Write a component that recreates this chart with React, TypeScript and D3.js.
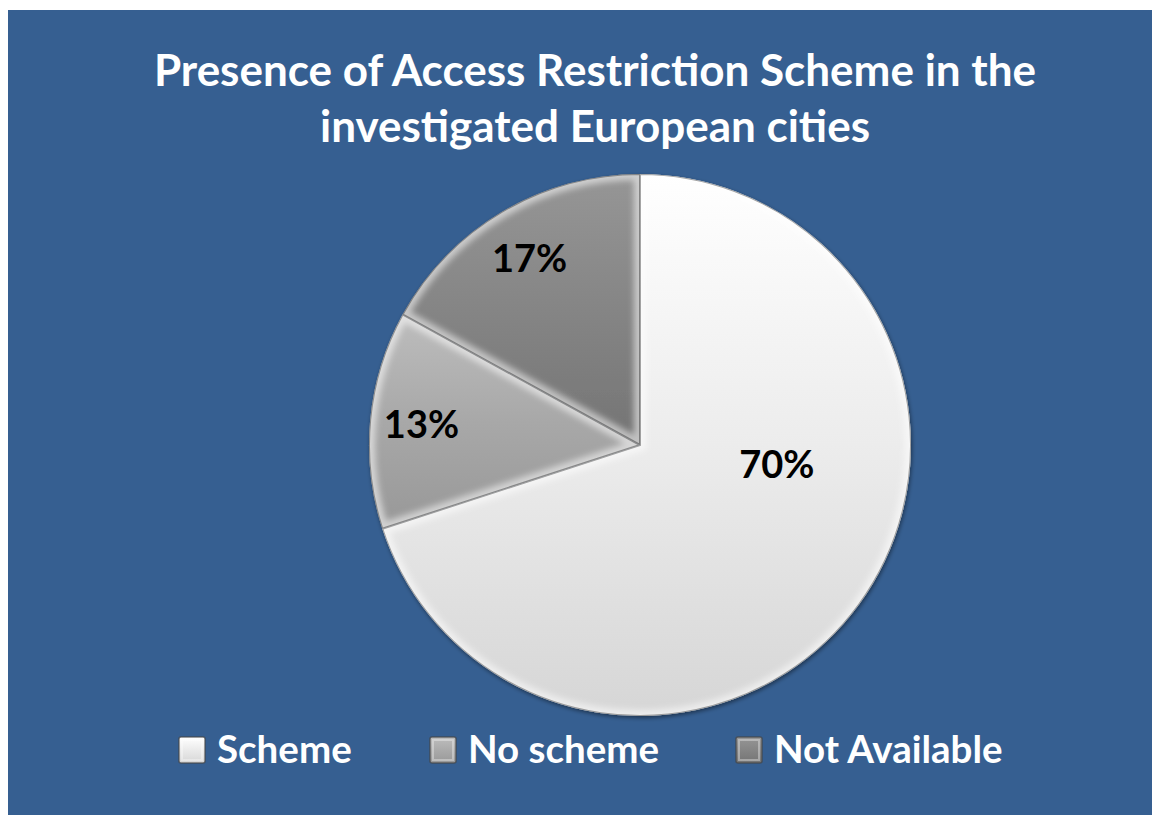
import * as d3 from 'd3';
import React from 'react';

// chart data
const categories = ['Scheme', 'No scheme', 'Not Available'];
const values = [70, 13, 17];
const sliceColors = ['#ececec', '#a8a8a8', '#858585'];
const sliceLight = ['#ffffff', '#bdbdbd', '#969696'];
const sliceDark = ['#d6d6d6', '#989898', '#747474'];
const titleLines = ['Presence of Access Restriction Scheme in the', 'investigated European cities'];
// label placement: radius as share of pie radius, angle shift in degrees
const labelRadius = [0.51, 0.81, 0.8];
const labelShift = [-28, 0, 0];

const params = {
    width: 1152,
    height: 815,
    bgX: 8,
    bgY: 10,
    bg: '#365f91',
    cx: 640,
    cy: 445,
    radius: 271,
    titleX: 595,
    titleY: [86, 142],
    legendY: 750,
    legendX: [179, 430, 736],
    font: 'Lato, "Open Sans", sans-serif',
};

export default function App() {
    const pie = d3.pie<number>().sort(null).value(d => d);
    const arcs = pie(values);
    const arc = d3.arc<d3.PieArcDatum<number>>().innerRadius(0).outerRadius(params.radius);

    return (
        <svg width={params.width} height={params.height}
            style={{ position: 'absolute', left: 0, top: 0, fontFamily: params.font }}>
            <defs>
                {arcs.map((d, i) => (
                    <linearGradient key={i} id={'g' + i} x1="0" y1="0" x2="0" y2="1">
                        <stop offset="0" stopColor={sliceLight[i]} />
                        <stop offset="0.5" stopColor={sliceColors[i]} />
                        <stop offset="1" stopColor={sliceDark[i]} />
                    </linearGradient>
                ))}
                {arcs.map((d, i) => (
                    <clipPath key={i} id={'c' + i}>
                        <path d={arc(d) || ''} />
                    </clipPath>
                ))}
                <filter id="blur" x="-10%" y="-10%" width="120%" height="120%">
                    <feGaussianBlur stdDeviation="3" />
                </filter>
                <filter id="shadow" x="-10%" y="-10%" width="120%" height="120%">
                    <feDropShadow dx="1" dy="2" stdDeviation="2" floodColor="#000" floodOpacity="0.45" />
                </filter>
                {categories.map((c, i) => (
                    <linearGradient key={c} id={'lg' + i} x1="0" y1="0" x2="0" y2="1">
                        <stop offset="0" stopColor={sliceLight[i]} />
                        <stop offset="1" stopColor={sliceDark[i]} />
                    </linearGradient>
                ))}
            </defs>
            <rect x={params.bgX} y={params.bgY} width={params.width - params.bgX} height={params.height - params.bgY} fill={params.bg} />

            {titleLines.map((t, i) => (
                <text key={i} x={params.titleX} y={params.titleY[i]} textAnchor="middle"
                    fill="#fff" fontWeight="bold" fontSize={44}>{t}</text>
            ))}

            <g transform={`translate(${params.cx},${params.cy})`}>
                <g filter="url(#shadow)">
                    {arcs.map((d, i) => (
                        <path key={i} d={arc(d) || ''} fill={`url(#g${i})`} />
                    ))}
                </g>
                {arcs.map((d, i) => (
                    <g key={i} clipPath={`url(#c${i})`}>
                        <path d={arc(d) || ''} fill="none" stroke="#fff" strokeOpacity={0.55}
                            strokeWidth={12} filter="url(#blur)" />
                        <path d={arc(d) || ''} fill="none" stroke="#000" strokeOpacity={0.35}
                            strokeWidth={2} />
                    </g>
                ))}
                {arcs.map((d, i) => {
                    const a = (d.startAngle + d.endAngle) / 2 + labelShift[i] * Math.PI / 180;
                    const r = params.radius * labelRadius[i];
                    return (
                        <text key={i} x={Math.sin(a) * r} y={-Math.cos(a) * r} dy="0.36em"
                            textAnchor="middle" fontWeight="bold" fontSize={38} fill="#000">
                            {Math.round(d.value / d3.sum(values) * 100)}%
                        </text>
                    );
                })}
            </g>

            {categories.map((c, i) => (
                <g key={c} transform={`translate(${params.legendX[i]},${params.legendY})`}>
                    <rect x={0} y={-13} width={26} height={26} fill={`url(#lg${i})`}
                        stroke="#444" strokeOpacity={0.7} strokeWidth={1.5} rx={2} />
                    <rect x={3} y={-10} width={20} height={20} fill="none"
                        stroke="#fff" strokeOpacity={0.35} strokeWidth={2} />
                    <text x={38} y={13} fill="#fff" fontWeight="bold" fontSize={38.5}>{c}</text>
                </g>
            ))}
        </svg>
    );
}
